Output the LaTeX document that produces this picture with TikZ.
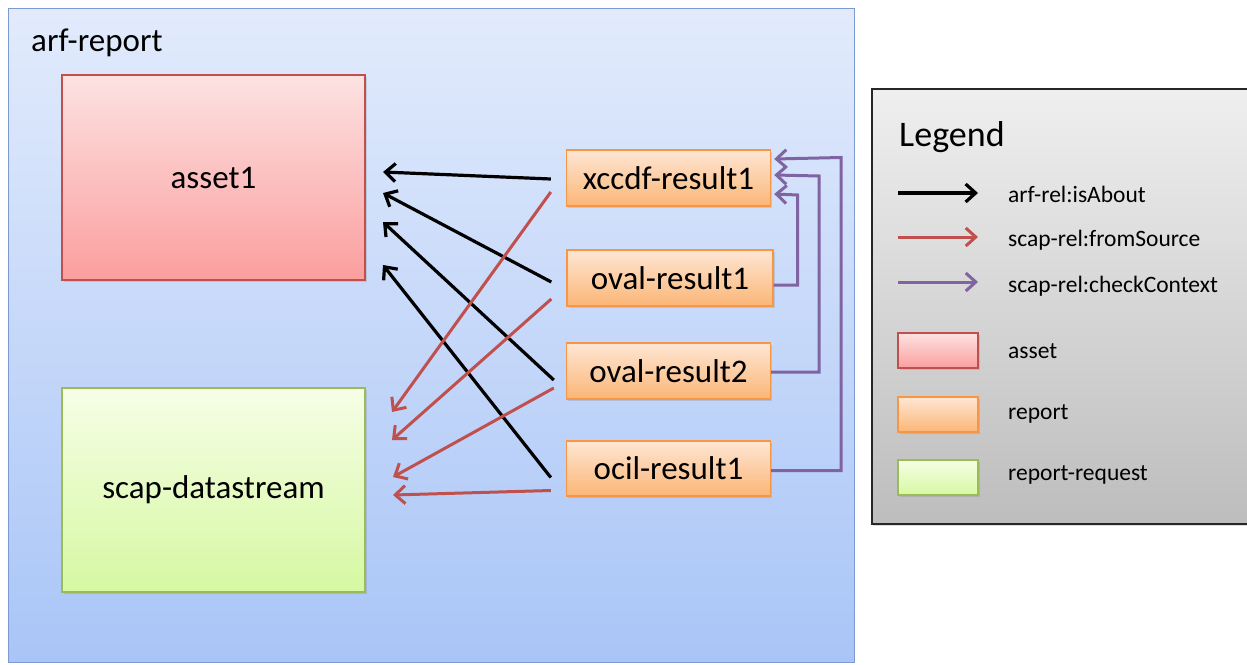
\documentclass[tikz,border=0pt]{standalone}
\usepackage{fontspec}
\setmainfont{Carlito}
\usetikzlibrary{arrows.meta,shadows}
\definecolor{frameline}{HTML}{7B9BD0}
\definecolor{frametop}{HTML}{E2EBFC}
\definecolor{framebot}{HTML}{A9C5F7}
\definecolor{assetline}{HTML}{C0504D}
\definecolor{assettop}{HTML}{FDE2E2}
\definecolor{assetbot}{HTML}{FB9E9E}
\definecolor{reportline}{HTML}{F79646}
\definecolor{reporttop}{HTML}{FEE6D4}
\definecolor{reportbot}{HTML}{FBB676}
\definecolor{requestline}{HTML}{9BBB59}
\definecolor{requesttop}{HTML}{F6FEE6}
\definecolor{requestbot}{HTML}{D6F8A2}
\definecolor{legendtop}{HTML}{EFEFEF}
\definecolor{legendbot}{HTML}{BDBDBD}
\definecolor{fromsrc}{HTML}{C0504D}
\definecolor{checkctx}{HTML}{8064A2}
\begin{document}
\begin{tikzpicture}[
    x=1pt, y=-1pt,
    shade/.style={drop shadow={opacity=0.25,shadow xshift=1.5pt,shadow yshift=-2pt}},
    box/.style={draw, line width=1.4pt, inner sep=0pt, shade, font=\fontsize{33}{38}\selectfont},
    asset/.style={box, draw=assetline, top color=assettop, bottom color=assetbot},
    report/.style={box, draw=reportline, top color=reporttop, bottom color=reportbot,
      minimum width=204pt, minimum height=56pt},
    request/.style={box, draw=requestline, top color=requesttop, bottom color=requestbot},
    swatch/.style={minimum width=80pt, minimum height=35pt, font=\normalsize},
    legendtext/.style={anchor=west, inner sep=0pt, font=\fontsize{23.5}{27}\selectfont},
    isabout/.style={line width=3.2pt, black, -{Straight Barb[length=10pt,width=18pt]}},
    fromsource/.style={line width=3pt, fromsrc, -{Straight Barb[length=10pt,width=18pt]}},
    checkcontext/.style={line width=3pt, checkctx, -{Straight Barb[length=10pt,width=18pt]}}
  ]
  \useasboundingbox (0,0) rectangle (1247,664);

  \node[draw=frameline, line width=1.4pt, top color=frametop, bottom color=framebot,
    anchor=north west, minimum width=846pt, minimum height=654pt] (arf) at (8,8) {};
  \node[anchor=west, inner sep=0pt, font=\fontsize{33}{38}\selectfont] (arflabel) at (31,43) {arf-report};

  \node[asset, minimum width=303pt, minimum height=205pt] (asset) at (213.5,177.5) {asset1};
  \node[request, minimum width=303pt, minimum height=204pt] (datastream) at (213.5,490) {scap-datastream};

  \node[report] (xccdf) at (668.5,178) {xccdf-result1};
  \node[report, minimum width=206pt] (oval1) at (670,278) {oval-result1};
  \node[report] (oval2) at (668.5,371) {oval-result2};
  \node[report, minimum height=55pt] (ocil) at (668.5,468.5) {ocil-result1};

  \coordinate (about1) at (383,172);
  \coordinate (about2) at (383,193);
  \coordinate (about3) at (383,222);
  \coordinate (about4) at (383,265);
  \coordinate (source1) at (392,412);
  \coordinate (source2) at (392,440);
  \coordinate (source3) at (393,477);
  \coordinate (source4) at (393,495);

  \draw[isabout] ([xshift=-15pt,yshift=-1pt]xccdf.west) -- (about1);
  \draw[isabout] ([xshift=-15pt,yshift=-4pt]oval1.west) -- (about2);
  \draw[isabout] ([xshift=-12pt,yshift=-9pt]oval2.west) -- (about3);
  \draw[isabout] ([xshift=-15pt,yshift=-9pt]ocil.west) -- (about4);

  \draw[fromsource] ([xshift=-15pt,yshift=-14pt]xccdf.west) -- (source1);
  \draw[fromsource] ([xshift=-15pt,yshift=-21pt]oval1.west) -- (source2);
  \draw[fromsource] ([xshift=-12pt,yshift=-17pt]oval2.west) -- (source3);
  \draw[fromsource] ([xshift=-15pt,yshift=-22pt]ocil.west) -- (source4);

  \draw[checkcontext] ([yshift=-7pt]oval1.east) -| ++(24,-90) -- ([xshift=3pt,yshift=-16pt]xccdf.east);
  \draw[checkcontext] ([yshift=-1pt]oval2.east) -| ++(48,-196) -- ([xshift=3pt,yshift=3pt]xccdf.east);
  \draw[checkcontext] ([yshift=-2pt]ocil.east) -| ++(70,-313) -- ([xshift=3pt,yshift=19pt]xccdf.east);

  \node[draw=black!85, line width=1.6pt, top color=legendtop, bottom color=legendbot, shade,
    anchor=north west, minimum width=400pt, minimum height=435pt] (legend) at (871,88) {};
  \node[anchor=west, inner sep=0pt, font=\fontsize{36}{40}\selectfont] (legendtitle) at (899,137) {Legend};

  \node[legendtext] (labout) at (1008,194) {arf-rel:isAbout};
  \node[legendtext] (lsource) at (1008,240) {scap-rel:fromSource};
  \node[legendtext] (lcontext) at (1008,286) {scap-rel:checkContext};
  \draw[isabout] ([xshift=-110pt,yshift=1pt]labout.west) -- ([xshift=-30pt,yshift=1pt]labout.west);
  \draw[fromsource] ([xshift=-110pt,yshift=3pt]lsource.west) -- ([xshift=-30pt,yshift=3pt]lsource.west);
  \draw[checkcontext] ([xshift=-110pt,yshift=4pt]lcontext.west) -- ([xshift=-30pt,yshift=4pt]lcontext.west);

  \node[asset, swatch] (sasset) at (938,350.5) {};
  \node[report, swatch] (sreport) at (938,414.5) {};
  \node[request, swatch] (srequest) at (938,477.5) {};
  \node[legendtext] (lasset) at (1008,351) {asset};
  \node[legendtext] (lreport) at (1008,414) {report};
  \node[legendtext] (lrequest) at (1008,475) {report-request};
\end{tikzpicture}
\end{document}
